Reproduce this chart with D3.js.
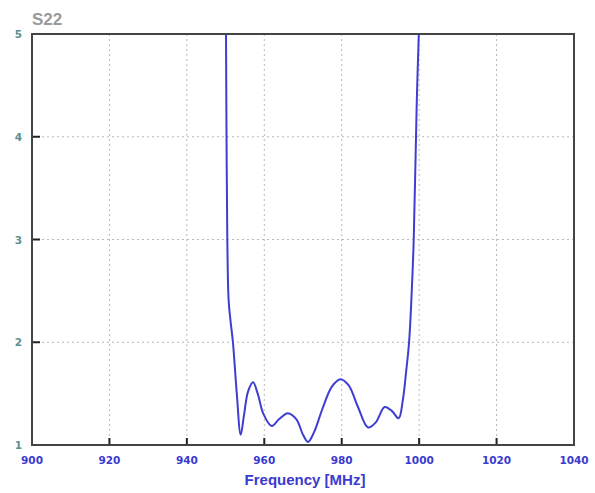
<!DOCTYPE html>
<html><head><meta charset="utf-8">
<script src="https://cdn.jsdelivr.net/npm/d3@7"></script>
<style>body{margin:0;background:#fff}svg{display:block}</style>
</head><body>
<svg id="c" width="595" height="493"></svg>
<script>
const title = "S22";
const xLabel = "Frequency [MHz]";
const xTicks = [900, 920, 940, 960, 980, 1000, 1020, 1040];
const yTicks = [1, 2, 3, 4, 5];
const freq = [950.1, 950.25, 950.45, 950.8, 951.3, 951.9, 952.9, 953.9, 954.8, 955.8, 957.1, 958.3, 959.8, 961.9, 963.8, 966.1, 968.3, 970.0, 971.3, 972.8, 975.0, 977.5, 979.7, 981.8, 984.2, 986.8, 988.8, 991.1, 993.0, 994.7, 995.8, 996.6, 997.4, 998.0, 998.6, 999.4, 1000.0];
const s22 = [5.1, 4.0, 3.0, 2.4, 2.2, 2.0, 1.5, 1.1, 1.3, 1.52, 1.61, 1.5, 1.3, 1.185, 1.25, 1.31, 1.25, 1.1, 1.03, 1.12, 1.35, 1.57, 1.64, 1.58, 1.37, 1.17, 1.22, 1.37, 1.33, 1.26, 1.44, 1.7, 2.0, 2.42, 3.0, 4.36, 5.1];

const svg = d3.select("#c");
const L = 32, R = 574, T = 34, B = 445;
const x = d3.scaleLinear().domain([900, 1040]).range([L, R]);
const y = d3.scaleLinear().domain([1, 5]).range([B, T]);
const tickFont = "DejaVu Sans, Verdana, sans-serif";

// grid
svg.append("g").selectAll("line").data(xTicks.slice(1, -1)).join("line")
  .attr("x1", d => x(d)).attr("x2", d => x(d)).attr("y1", T).attr("y2", B)
  .attr("stroke", "#b8b8b8").attr("stroke-width", 1).attr("stroke-dasharray", "2,3");
svg.append("g").selectAll("line").data(yTicks.slice(1, -1)).join("line")
  .attr("x1", L).attr("x2", R).attr("y1", d => y(d)).attr("y2", d => y(d))
  .attr("stroke", "#b8b8b8").attr("stroke-width", 1).attr("stroke-dasharray", "2,3");

// inner ticks
svg.append("g").selectAll("line").data(xTicks.slice(1, -1)).join("line")
  .attr("x1", d => x(d)).attr("x2", d => x(d)).attr("y1", B).attr("y2", B - 7)
  .attr("stroke", "#222").attr("stroke-width", 2);
svg.append("g").selectAll("line").data(yTicks.slice(1, -1)).join("line")
  .attr("x1", L).attr("x2", L + 8).attr("y1", d => y(d)).attr("y2", d => y(d))
  .attr("stroke", "#222").attr("stroke-width", 2);

// clip
svg.append("clipPath").attr("id", "clip").append("rect")
  .attr("x", L).attr("y", T).attr("width", R - L).attr("height", B - T);

const pts = freq.map((f, i) => [f, s22[i]]);
const line = d3.line().x(d => x(d[0])).y(d => y(d[1])).curve(d3.curveCatmullRom.alpha(0.5));
svg.append("path").datum(pts).attr("d", line).attr("clip-path", "url(#clip)")
  .attr("fill", "none").attr("stroke", "#3e3ed2").attr("stroke-width", 2);

// frame
svg.append("rect").attr("x", L).attr("y", T).attr("width", R - L).attr("height", B - T)
  .attr("fill", "none").attr("stroke", "#444").attr("stroke-width", 2);

// tick labels
svg.append("g").selectAll("text").data(xTicks).join("text")
  .attr("x", d => x(d)).attr("y", 464).attr("text-anchor", "middle")
  .attr("font-family", tickFont).attr("font-size", 10.5).attr("font-weight", "bold")
  .attr("fill", "#3a3ad0").text(d => d);
svg.append("g").selectAll("text").data(yTicks).join("text")
  .attr("x", 22).attr("y", d => y(d) + 4).attr("text-anchor", "end")
  .attr("font-family", tickFont).attr("font-size", 10.5).attr("font-weight", "bold")
  .attr("fill", "#5c9090").text(d => d);

svg.append("text").attr("x", 305).attr("y", 485).attr("text-anchor", "middle")
  .attr("font-family", "Liberation Sans, Arial, sans-serif").attr("font-size", 15).attr("font-weight", "bold")
  .attr("fill", "#3a3ad0").text(xLabel);
svg.append("text").attr("x", 32).attr("y", 25)
  .attr("font-family", "Liberation Sans, Arial, sans-serif").attr("font-size", 17).attr("font-weight", "bold")
  .attr("fill", "#999").text(title);
</script>
</body></html>
